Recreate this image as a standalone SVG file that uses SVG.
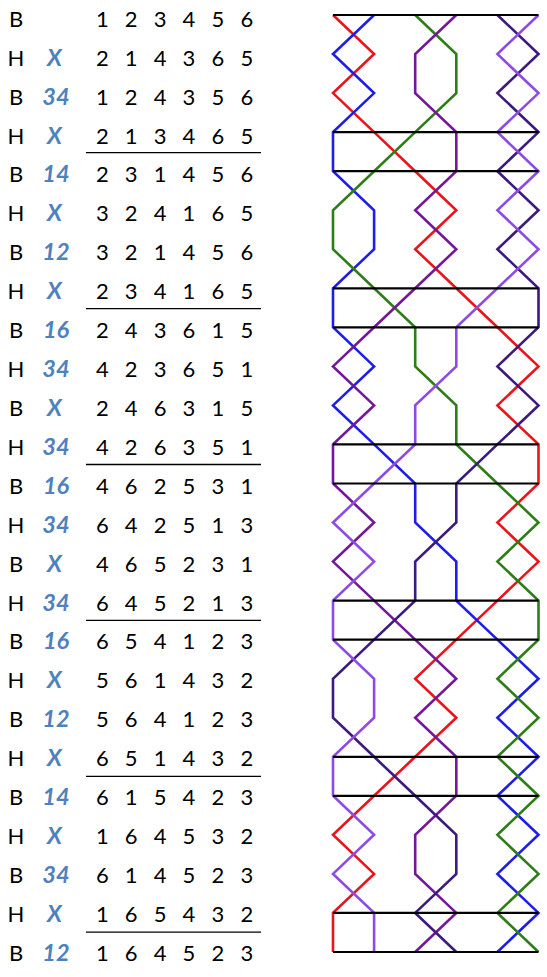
<svg xmlns="http://www.w3.org/2000/svg" width="547" height="977" viewBox="0 0 547 977">
<style>
.lbl{font-family:Lato,"Open Sans","Liberation Sans",sans-serif;font-size:22px;fill:#000;text-anchor:middle}
.m{font-family:Lato,"Open Sans","Liberation Sans",sans-serif;font-size:23.5px;font-weight:bold;font-style:italic;fill:#4F81BD;text-anchor:middle}
.ul{stroke:#000;stroke-width:1.3}
.bell{fill:none;stroke-width:2.6;stroke-linejoin:miter;stroke-linecap:butt}
.lead{stroke:#000;stroke-width:2.2}
</style>
<rect width="547" height="977" fill="#fff"/>
<g id="table">
<g class="lbl">
<text x="16" y="26.7">B</text><text x="102.3 131.2 160.1 189 217.9 246.8" y="26.7">123456</text>
<text x="16" y="65.6">H</text><text x="102.3 131.2 160.1 189 217.9 246.8" y="65.6">214365</text>
<text x="16" y="104.5">B</text><text x="102.3 131.2 160.1 189 217.9 246.8" y="104.5">124356</text>
<text x="16" y="143.5">H</text><text x="102.3 131.2 160.1 189 217.9 246.8" y="143.5">213465</text>
<text x="16" y="182.4">B</text><text x="102.3 131.2 160.1 189 217.9 246.8" y="182.4">231456</text>
<text x="16" y="221.3">H</text><text x="102.3 131.2 160.1 189 217.9 246.8" y="221.3">324165</text>
<text x="16" y="260.2">B</text><text x="102.3 131.2 160.1 189 217.9 246.8" y="260.2">321456</text>
<text x="16" y="299.1">H</text><text x="102.3 131.2 160.1 189 217.9 246.8" y="299.1">234165</text>
<text x="16" y="338.1">B</text><text x="102.3 131.2 160.1 189 217.9 246.8" y="338.1">243615</text>
<text x="16" y="377">H</text><text x="102.3 131.2 160.1 189 217.9 246.8" y="377">423651</text>
<text x="16" y="415.9">B</text><text x="102.3 131.2 160.1 189 217.9 246.8" y="415.9">246315</text>
<text x="16" y="454.8">H</text><text x="102.3 131.2 160.1 189 217.9 246.8" y="454.8">426351</text>
<text x="16" y="493.7">B</text><text x="102.3 131.2 160.1 189 217.9 246.8" y="493.7">462531</text>
<text x="16" y="532.7">H</text><text x="102.3 131.2 160.1 189 217.9 246.8" y="532.7">642513</text>
<text x="16" y="571.6">B</text><text x="102.3 131.2 160.1 189 217.9 246.8" y="571.6">465231</text>
<text x="16" y="610.5">H</text><text x="102.3 131.2 160.1 189 217.9 246.8" y="610.5">645213</text>
<text x="16" y="649.4">B</text><text x="102.3 131.2 160.1 189 217.9 246.8" y="649.4">654123</text>
<text x="16" y="688.3">H</text><text x="102.3 131.2 160.1 189 217.9 246.8" y="688.3">561432</text>
<text x="16" y="727.3">B</text><text x="102.3 131.2 160.1 189 217.9 246.8" y="727.3">564123</text>
<text x="16" y="766.2">H</text><text x="102.3 131.2 160.1 189 217.9 246.8" y="766.2">651432</text>
<text x="16" y="805.1">B</text><text x="102.3 131.2 160.1 189 217.9 246.8" y="805.1">615423</text>
<text x="16" y="844">H</text><text x="102.3 131.2 160.1 189 217.9 246.8" y="844">164532</text>
<text x="16" y="882.9">B</text><text x="102.3 131.2 160.1 189 217.9 246.8" y="882.9">614523</text>
<text x="16" y="921.9">H</text><text x="102.3 131.2 160.1 189 217.9 246.8" y="921.9">165432</text>
<text x="16" y="960.8">B</text><text x="102.3 131.2 160.1 189 217.9 246.8" y="960.8">164523</text>
</g>
<g class="m">
<text x="54.5" y="65.6">X</text>
<text x="56" y="104.5">34</text>
<text x="54.5" y="143.5">X</text>
<text x="56" y="182.4">14</text>
<text x="54.5" y="221.3">X</text>
<text x="56" y="260.2">12</text>
<text x="54.5" y="299.1">X</text>
<text x="56" y="338.1">16</text>
<text x="56" y="377">34</text>
<text x="54.5" y="415.9">X</text>
<text x="56" y="454.8">34</text>
<text x="56" y="493.7">16</text>
<text x="56" y="532.7">34</text>
<text x="54.5" y="571.6">X</text>
<text x="56" y="610.5">34</text>
<text x="56" y="649.4">16</text>
<text x="54.5" y="688.3">X</text>
<text x="56" y="727.3">12</text>
<text x="54.5" y="766.2">X</text>
<text x="56" y="805.1">14</text>
<text x="54.5" y="844">X</text>
<text x="56" y="882.9">34</text>
<text x="54.5" y="921.9">X</text>
<text x="56" y="960.8">12</text>
</g>
<g class="ul">
<line x1="86" y1="152.7" x2="261" y2="152.7"/>
<line x1="86" y1="308.6" x2="261" y2="308.6"/>
<line x1="86" y1="464.5" x2="261" y2="464.5"/>
<line x1="86" y1="620.4" x2="261" y2="620.4"/>
<line x1="86" y1="776.3" x2="261" y2="776.3"/>
<line x1="86" y1="932.2" x2="261" y2="932.2"/>
</g>
</g>
<g id="connectors">
<polyline id="bell1" class="bell" stroke="#E8161C" points="333,15 374.1,54 333,93.1 374.1,132.1 415.2,171.2 456.3,210.2 415.2,249.2 456.3,288.3 497.4,327.3 538.5,366.4 497.4,405.4 538.5,444.4 538.5,483.5 497.4,522.5 538.5,561.6 497.4,600.6 456.3,639.6 415.2,678.7 456.3,717.7 415.2,756.8 374.1,795.8 333,834.8 374.1,873.9 333,912.9 333,952"/>
<polyline id="bell2" class="bell" stroke="#1E1EE6" points="374.1,15 333,54 374.1,93.1 333,132.1 333,171.2 374.1,210.2 374.1,249.2 333,288.3 333,327.3 374.1,366.4 333,405.4 374.1,444.4 415.2,483.5 415.2,522.5 456.3,561.6 456.3,600.6 497.4,639.6 538.5,678.7 497.4,717.7 538.5,756.8 497.4,795.8 538.5,834.8 497.4,873.9 538.5,912.9 497.4,952"/>
<polyline id="bell3" class="bell" stroke="#2F7D18" points="415.2,15 456.3,54 456.3,93.1 415.2,132.1 374.1,171.2 333,210.2 333,249.2 374.1,288.3 415.2,327.3 415.2,366.4 456.3,405.4 456.3,444.4 497.4,483.5 538.5,522.5 497.4,561.6 538.5,600.6 538.5,639.6 497.4,678.7 538.5,717.7 497.4,756.8 538.5,795.8 497.4,834.8 538.5,873.9 497.4,912.9 538.5,952"/>
<polyline id="bell4" class="bell" stroke="#74189A" points="456.3,15 415.2,54 415.2,93.1 456.3,132.1 456.3,171.2 415.2,210.2 456.3,249.2 415.2,288.3 374.1,327.3 333,366.4 374.1,405.4 333,444.4 333,483.5 374.1,522.5 333,561.6 374.1,600.6 415.2,639.6 456.3,678.7 415.2,717.7 456.3,756.8 456.3,795.8 415.2,834.8 415.2,873.9 456.3,912.9 415.2,952"/>
<polyline id="bell5" class="bell" stroke="#3C1A7E" points="497.4,15 538.5,54 497.4,93.1 538.5,132.1 497.4,171.2 538.5,210.2 497.4,249.2 538.5,288.3 538.5,327.3 497.4,366.4 538.5,405.4 497.4,444.4 456.3,483.5 456.3,522.5 415.2,561.6 415.2,600.6 374.1,639.6 333,678.7 333,717.7 374.1,756.8 415.2,795.8 456.3,834.8 456.3,873.9 415.2,912.9 456.3,952"/>
<polyline id="bell6" class="bell" stroke="#8E4BE4" points="538.5,15 497.4,54 538.5,93.1 497.4,132.1 538.5,171.2 497.4,210.2 538.5,249.2 497.4,288.3 456.3,327.3 456.3,366.4 415.2,405.4 415.2,444.4 374.1,483.5 333,522.5 374.1,561.6 333,600.6 333,639.6 374.1,678.7 374.1,717.7 333,756.8 333,795.8 374.1,834.8 333,873.9 374.1,912.9 374.1,952"/>
<g class="lead">
<line x1="333" y1="15" x2="538.5" y2="15"/>
<line x1="333" y1="132.1" x2="538.5" y2="132.1"/>
<line x1="333" y1="171.2" x2="538.5" y2="171.2"/>
<line x1="333" y1="288.3" x2="538.5" y2="288.3"/>
<line x1="333" y1="327.3" x2="538.5" y2="327.3"/>
<line x1="333" y1="444.4" x2="538.5" y2="444.4"/>
<line x1="333" y1="483.5" x2="538.5" y2="483.5"/>
<line x1="333" y1="600.6" x2="538.5" y2="600.6"/>
<line x1="333" y1="639.6" x2="538.5" y2="639.6"/>
<line x1="333" y1="756.8" x2="538.5" y2="756.8"/>
<line x1="333" y1="795.8" x2="538.5" y2="795.8"/>
<line x1="333" y1="912.9" x2="538.5" y2="912.9"/>
<line x1="333" y1="952" x2="538.5" y2="952"/>
</g>
</g>
</svg>
